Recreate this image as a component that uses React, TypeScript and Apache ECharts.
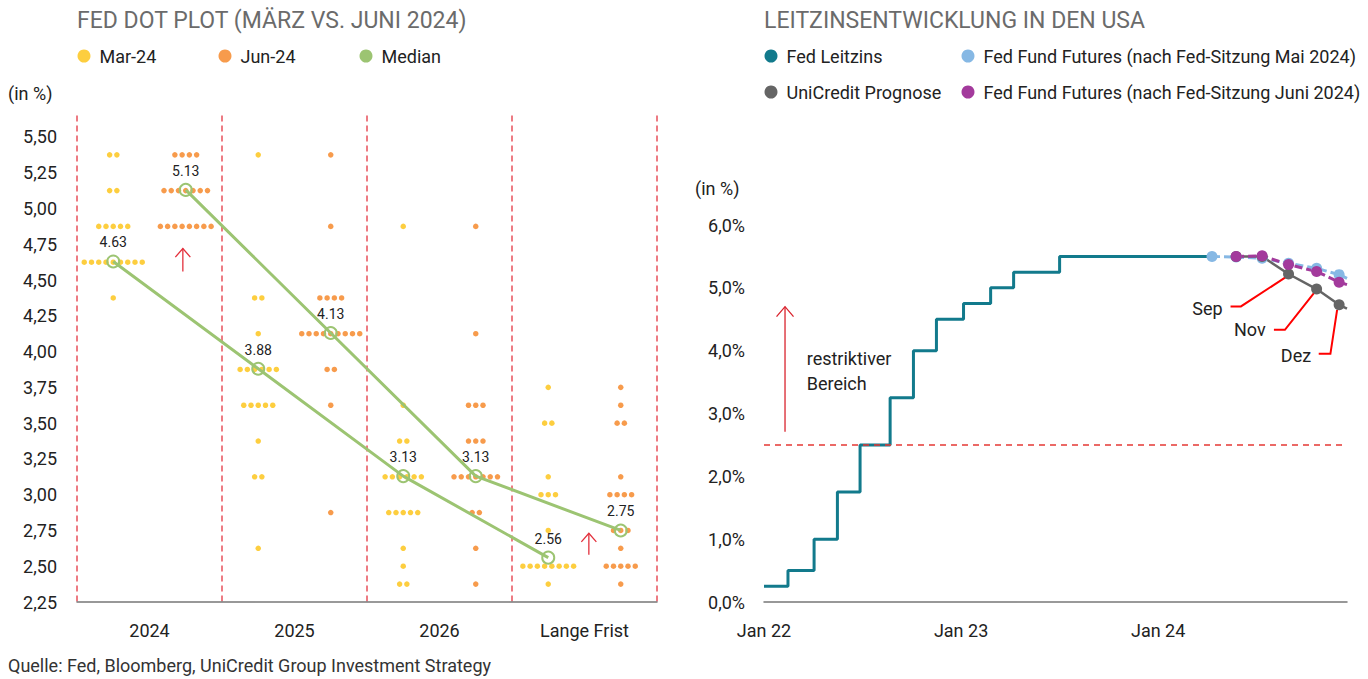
import React, { useEffect, useRef } from 'react';
import * as echarts from 'echarts';

// ---------- Left chart: FED dot plot ----------
const dotCategories = ['2024', '2025', '2026', 'Lange Frist'];
// [rate, number of FOMC participants] per category
const mar24Dots: number[][][] = [
  [[5.375, 2], [5.125, 2], [4.875, 5], [4.625, 9], [4.375, 1]],
  [[5.375, 1], [4.375, 2], [4.125, 1], [3.875, 6], [3.625, 5], [3.375, 1], [3.125, 2], [2.625, 1]],
  [[4.875, 1], [3.625, 1], [3.375, 2], [3.125, 6], [2.875, 5], [2.625, 1], [2.5, 1], [2.375, 2]],
  [[3.75, 1], [3.5, 2], [3.125, 1], [3.0, 3], [2.75, 1], [2.5, 8], [2.375, 1]],
];
const jun24Dots: number[][][] = [
  [[5.375, 4], [5.125, 7], [4.875, 8]],
  [[5.375, 1], [4.875, 1], [4.375, 4], [4.125, 9], [3.875, 2], [3.625, 1], [2.875, 1]],
  [[4.875, 1], [4.125, 1], [3.625, 3], [3.375, 3], [3.125, 7], [2.875, 2], [2.625, 1], [2.375, 1]],
  [[3.75, 1], [3.625, 1], [3.5, 2], [3.125, 1], [3.0, 4], [2.75, 3], [2.625, 1], [2.5, 5], [2.375, 1]],
];
const mar24Median = [4.63, 3.88, 3.13, 2.56];
const jun24Median = [5.13, 4.13, 3.13, 2.75];

// ---------- Right chart: Leitzins ----------
// x in months since Jan 22
const fedMonths = [0, 1.46, 3.05, 4.47, 5.85, 7.68, 9.1, 10.5, 12.15, 13.8, 15.2, 18.0, 27.3];
const fedRate = [0.25, 0.5, 1.0, 1.75, 2.5, 3.25, 4.0, 4.5, 4.75, 5.0, 5.25, 5.5, 5.5];
const meetingMonths = [27.28, 28.75, 30.33, 31.94, 33.65, 35.02, 35.5];
const futuresMay = [5.5, 5.49, 5.47, 5.39, 5.31, 5.21, 5.15];
const futuresJune = [null, 5.5, 5.51, 5.37, 5.26, 5.09, 5.05];
const unicreditForecast = [null, 5.5, 5.5, 5.22, 4.98, 4.73, 4.67];
const monthLabels = ['Jan 22', 'Jan 23', 'Jan 24'];
const neutralRate = 2.5;

// colours
const YELLOW = '#FDC20F';
const ORANGE = '#F5821F';
const GREEN = '#9CC472';
const TEAL = '#127A8C';
const LIGHTBLUE = '#86B8E4';
const PURPLE = '#A33A9C';
const GREY = '#656565';
const FONT = 'Roboto';
const FS = 18;

const DOT_STEP = 0.05;

function dotPoints(groups: number[][][], offset: number) {
  const pts: number[][] = [];
  groups.forEach((rows, c) =>
    rows.forEach(([rate, n]) => {
      for (let i = 0; i < n; i++) pts.push([c + offset + (i - (n - 1) / 2) * DOT_STEP, rate]);
    })
  );
  return pts;
}

function meetingSeries(values: (number | null)[]) {
  const out: any[] = [];
  values.forEach((v, i) => {
    if (v == null) return;
    const last = i === values.length - 1;
    out.push(last ? { value: [meetingMonths[i], v], symbol: 'none' } : { value: [meetingMonths[i], v] });
  });
  return out;
}

const isTick = (v: number, step: number) => Math.abs(v / step - Math.round(v / step)) < 1e-6;

export default function App() {
  const ref = useRef<HTMLDivElement>(null);
  useEffect(() => {
    const chart = echarts.init(ref.current!, null, { renderer: 'svg' });
    const medianSeries = (name: string, vals: number[], off: number) => ({
      name,
      type: 'line',
      xAxisIndex: 0,
      yAxisIndex: 0,
      data: vals.map((v, c) => [c + off, v]),
      symbol: 'circle',
      symbolSize: 12,
      itemStyle: { color: 'rgba(255,255,255,0)', borderColor: GREEN, borderWidth: 2 },
      lineStyle: { color: GREEN, width: 3 },
      label: {
        show: true,
        position: 'top',
        distance: 5,
        fontSize: 14,
        color: '#222',
        fontFamily: FONT,
        formatter: (p: any) => p.value[1].toFixed(2),
      },
      z: 5,
    });

    const titleStyle = { fontSize: 23, fontWeight: 'normal', color: '#6b6b6b', fontFamily: FONT, lineHeight: 23 };
    const legendText = { fontSize: FS, color: '#222', lineHeight: 13, padding: [0, 0, 0, 4] };

    const option: any = {
      animation: false,
      textStyle: { fontFamily: FONT },
      title: [
        { text: 'FED DOT PLOT (MÄRZ VS. JUNI 2024)', left: 77, top: 9, padding: 0, textStyle: titleStyle },
        { text: 'LEITZINSENTWICKLUNG IN DEN USA', left: 764, top: 9, padding: 0, textStyle: titleStyle },
        {
          text: 'Quelle: Fed, Bloomberg, UniCredit Group Investment Strategy',
          left: 8,
          top: 655,
          padding: 0,
          textStyle: { fontSize: FS, fontWeight: 'normal', color: '#333', fontFamily: FONT, lineHeight: 20 },
        },
      ],
      legend: [
        {
          left: 77.5,
          top: 47,
          padding: 0,
          icon: 'circle',
          itemWidth: 13,
          itemHeight: 13,
          itemGap: 9,
          textStyle: { ...legendText, width: 110 },
          data: [
            { name: 'Mar-24' },
            { name: 'Jun-24' },
            { name: 'Median', itemStyle: { color: GREEN, borderWidth: 0 } },
          ],
        },
        {
          left: 764.5,
          top: 47,
          padding: 0,
          orient: 'vertical',
          icon: 'circle',
          itemWidth: 13,
          itemHeight: 13,
          itemGap: 18,
          textStyle: legendText,
          data: ['Fed Leitzins', 'UniCredit Prognose'],
        },
        {
          left: 961.5,
          top: 47,
          padding: 0,
          orient: 'vertical',
          icon: 'circle',
          itemWidth: 13,
          itemHeight: 13,
          itemGap: 18,
          textStyle: legendText,
          data: ['Fed Fund Futures (nach Fed-Sitzung Mai 2024)', 'Fed Fund Futures (nach Fed-Sitzung Juni 2024)'],
        },
      ],
      grid: [
        { left: 77, right: 711, top: 115.5, bottom: 77 },
        { left: 764, right: 21, top: 225, bottom: 77 },
      ],
      xAxis: [
        {
          type: 'value',
          gridIndex: 0,
          min: 0,
          max: 4,
          interval: 1,
          axisLine: { show: true, lineStyle: { color: '#777', width: 1.5 } },
          axisTick: { show: false },
          axisLabel: { show: false },
          splitLine: {
            show: true,
            showMinLine: true,
            showMaxLine: true,
            lineStyle: { color: '#E8505B', type: [6, 4], width: 1.5 },
          },
        },
        {
          type: 'category',
          gridIndex: 0,
          position: 'bottom',
          data: dotCategories,
          axisLine: { show: false },
          axisTick: { show: false },
          splitLine: { show: false },
          axisLabel: { fontSize: FS, color: '#222', margin: 19 },
        },
        {
          type: 'value',
          gridIndex: 1,
          min: 0,
          max: 35.5,
          interval: 12,
          axisLine: { show: true, lineStyle: { color: '#777', width: 1.5 } },
          axisTick: { show: false },
          splitLine: { show: false },
          axisLabel: {
            fontSize: FS,
            color: '#222',
            margin: 19,
            showMaxLabel: false,
            formatter: (v: number) => (isTick(v, 12) ? monthLabels[Math.round(v / 12)] ?? '' : ''),
          },
        },
      ],
      yAxis: [
        {
          type: 'value',
          gridIndex: 0,
          min: 2.25,
          max: 5.65,
          interval: 0.25,
          axisLine: { show: false },
          axisTick: { show: false },
          splitLine: { show: false },
          axisLabel: {
            fontSize: FS,
            color: '#222',
            margin: 20,
            formatter: (v: number) => (isTick(v, 0.25) ? v.toFixed(2).replace('.', ',') : ''),
          },
        },
        {
          type: 'value',
          gridIndex: 1,
          min: 0,
          max: 6,
          interval: 1,
          axisLine: { show: false },
          axisTick: { show: false },
          splitLine: { show: false },
          axisLabel: {
            fontSize: FS,
            color: '#222',
            margin: 19,
            formatter: (v: number) => v.toFixed(1).replace('.', ',') + '%',
          },
        },
      ],
      series: [
        {
          name: 'Mar-24',
          type: 'scatter',
          xAxisIndex: 0,
          yAxisIndex: 0,
          data: dotPoints(mar24Dots, 0.25),
          symbolSize: 5.5,
          itemStyle: { color: YELLOW },
        },
        {
          name: 'Jun-24',
          type: 'scatter',
          xAxisIndex: 0,
          yAxisIndex: 0,
          data: dotPoints(jun24Dots, 0.75),
          symbolSize: 5.5,
          itemStyle: { color: ORANGE },
        },
        medianSeries('Median', mar24Median, 0.25),
        medianSeries('Median', jun24Median, 0.75),
        {
          name: 'Fed Leitzins',
          type: 'line',
          xAxisIndex: 2,
          yAxisIndex: 1,
          step: 'end',
          symbol: 'none',
          data: fedMonths.map((m, i) => [m, fedRate[i]]),
          itemStyle: { color: TEAL },
          lineStyle: { color: TEAL, width: 3 },
          markLine: {
            silent: true,
            symbol: ['none', 'none'],
            label: { show: false },
            lineStyle: { color: '#E53935', type: [6, 5], width: 1.5 },
            data: [{ yAxis: neutralRate }],
          },
        },
        {
          name: 'Fed Fund Futures (nach Fed-Sitzung Mai 2024)',
          type: 'line',
          xAxisIndex: 2,
          yAxisIndex: 1,
          data: meetingSeries(futuresMay),
          symbol: 'circle',
          symbolSize: 11,
          itemStyle: { color: LIGHTBLUE },
          lineStyle: { color: LIGHTBLUE, width: 3, type: [8, 4] },
        },
        {
          name: 'UniCredit Prognose',
          type: 'line',
          xAxisIndex: 2,
          yAxisIndex: 1,
          data: meetingSeries(unicreditForecast),
          symbol: 'circle',
          symbolSize: 11,
          itemStyle: { color: GREY },
          lineStyle: { color: GREY, width: 2.5 },
        },
        {
          name: 'Fed Fund Futures (nach Fed-Sitzung Juni 2024)',
          type: 'line',
          xAxisIndex: 2,
          yAxisIndex: 1,
          data: meetingSeries(futuresJune),
          symbol: 'circle',
          symbolSize: 11,
          itemStyle: { color: PURPLE },
          lineStyle: { color: PURPLE, width: 3, type: [8, 4] },
        },
      ],
    };
    chart.setOption(option);

    // ---------- annotations ----------
    const px = (xa: number, ya: number, pt: number[]) =>
      chart.convertToPixel({ xAxisIndex: xa, yAxisIndex: ya } as any, pt) as number[];
    const g: any[] = [];
    const arrow = (xa: number, ya: number, x: number, y0: number, y1: number, hw: number, h: number, color: string) => {
      const b = px(xa, ya, [x, y0]);
      const t = px(xa, ya, [x, y1]);
      g.push({ type: 'line', shape: { x1: b[0], y1: b[1], x2: t[0], y2: t[1] }, style: { stroke: color, lineWidth: 1.3 }, z: 10 });
      g.push({
        type: 'polyline',
        shape: { points: [[t[0] - hw, t[1] + h], [t[0], t[1]], [t[0] + hw, t[1] + h]] },
        style: { stroke: color, fill: 'none', lineWidth: 1.3 },
        z: 10,
      });
    };
    arrow(0, 0, 0.73, 4.56, 4.72, 7.5, 8.5, '#E3303C');
    arrow(0, 0, 3.53, 2.58, 2.73, 7.5, 8.5, '#E3303C');
    arrow(2, 1, 1.28, 2.71, 4.7, 8.5, 10, '#D9232D');

    const rb = px(2, 1, [2.6, 4.0]);
    g.push({
      type: 'text',
      x: rb[0],
      y: rb[1] - 5,
      style: { text: 'restriktiver\nBereich', fontSize: FS, fontFamily: FONT, fill: '#222', lineHeight: 25, align: 'left', verticalAlign: 'top' },
      z: 10,
    });

    g.push({ type: 'text', x: 8, y: 93, style: { text: '(in %)', fontSize: FS, fontFamily: FONT, fill: '#222', align: 'left', verticalAlign: 'middle' } });
    g.push({ type: 'text', x: 695, y: 188, style: { text: '(in %)', fontSize: FS, fontFamily: FONT, fill: '#222', align: 'left', verticalAlign: 'middle' } });

    const callouts = [
      { label: 'Sep', idx: 3, text: [-66, 34], start: [-58, 32.4], corner: [-47.6, 32.4], end: [-1.6, 2.4] },
      { label: 'Nov', idx: 4, text: [-51, 40.7], start: [-42.7, 40.7], corner: [-31.7, 40.7], end: [-2.7, 4] },
      { label: 'Dez', idx: 5, text: [-28, 50.7], start: [-20.4, 49], corner: [-8.7, 49], end: [-2, 5] },
    ];
    callouts.forEach((c) => {
      const p = px(2, 1, [meetingMonths[c.idx], unicreditForecast[c.idx] as number]);
      g.push({
        type: 'polyline',
        shape: {
          points: [
            [p[0] + c.start[0], p[1] + c.start[1]],
            [p[0] + c.corner[0], p[1] + c.corner[1]],
            [p[0] + c.end[0], p[1] + c.end[1]],
          ],
        },
        style: { stroke: '#FF0000', fill: 'none', lineWidth: 2 },
        z: 1,
      });
      g.push({
        type: 'text',
        x: p[0] + c.text[0],
        y: p[1] + c.text[1],
        style: { text: c.label, fontSize: FS, fontFamily: FONT, fill: '#222', align: 'right', verticalAlign: 'middle' },
        z: 10,
      });
    });
    chart.setOption({ graphic: g });

    return () => chart.dispose();
  }, []);
  return (
    <div
      ref={ref}
      style={{ position: 'fixed', left: 0, top: 0, width: 1368, height: 679, background: '#fff' }}
    />
  );
}
